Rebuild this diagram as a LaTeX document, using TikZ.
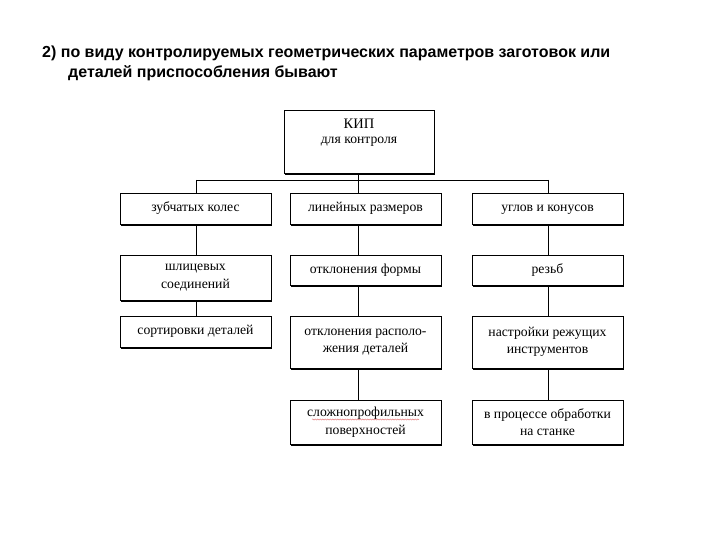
\documentclass[tikz,border=0pt]{standalone}
\usepackage{fontspec}
\setmainfont{Liberation Serif}
\newfontfamily\titlefont{Liberation Sans}
\usetikzlibrary{shadows,decorations.pathmorphing}
\begin{document}
\begin{tikzpicture}[x=1pt,y=-1pt,
  box/.style={draw=black, line width=0.8pt, fill=white, inner sep=0pt,
    minimum width=151pt, align=center,
    font=\fontsize{13.7}{17.5}\selectfont,
    drop shadow={shadow xshift=1.3pt, shadow yshift=-1.6pt, fill=black, opacity=1}},
  oneline/.style={text height=9.5pt, text depth=3pt},
  link/.style={draw=black, line width=0.8pt},
  ttl/.style={font=\titlefont\bfseries\fontsize{16}{18}\selectfont, inner sep=0pt, anchor=base west}]
\useasboundingbox (0,0) rectangle (720,540);
\fill[white] (0,0) rectangle (720,540);
% title
\node[ttl] (t1) at (42,58) {2) по виду контролируемых геометрических параметров заготовок или};
\node[ttl] (t2) at (68,78) {деталей приспособления бывают};
% top box
\node[box, minimum width=150pt, minimum height=63pt] (top) at (359,141.5) {};
\node[font=\fontsize{14.5}{16}\selectfont, inner sep=0pt] (topa) at (359,124) {КИП};
\node[font=\fontsize{13.7}{16}\selectfont, inner sep=0pt] (topb) at (359,142) {для контроля};
% columns
\coordinate (col1) at (196,0);
\coordinate (col2) at (358,0);
\coordinate (col3) at (548,0);
\coordinate (bus) at (0,180);
% row 1
\node[box, oneline, minimum height=31pt] (a1) at (195.5,208.5) {зубчатых колес};
\node[box, oneline, minimum height=31pt] (b1) at (365.5,208.5) {линейных размеров};
\node[box, oneline, minimum height=31pt] (c1) at (547.5,208.5) {углов и конусов};
% row 2
\node[box, minimum height=45pt] (a2) at (195.5,277.5) {шлицевых\\соединений};
\node[box, oneline, minimum height=30pt] (b2) at (365.5,270) {отклонения формы};
\node[box, oneline, minimum height=30pt] (c2) at (547.5,270) {резьб};
% row 3
\node[box, oneline, minimum height=31pt] (a3) at (195.5,331.5) {сортировки деталей};
\node[box, minimum height=52pt] (b3) at (365.5,342) {отклонения располо-\\жения деталей};
\node[box, minimum height=52pt] (c3) at (547.5,342) {настройки режущих\\инструментов};
% row 4
\node[box, minimum height=44pt] (b4) at (365.5,422) {сложнопрофильных\\поверхностей};
\node[box, minimum height=44pt] (c4) at (547.5,422) {в процессе обработки\\на станке};
% spell-check underline
\coordinate (wl) at (312,419.5);
\coordinate (wr) at (419,419.5);
\draw[red!80!black, opacity=0.5, line width=0.5pt,
  decorate, decoration={snake, amplitude=0.6pt, segment length=2.5pt}] (wl) -- (wr);
% connectors
\draw[link] (top.south -| col2) -- (b1.north -| col2);
\draw[link] (bus -| col1) -- (bus -| col3);
\draw[link] (bus -| col1) -- (a1.north -| col1);
\draw[link] (bus -| col3) -- (c1.north -| col3);
\draw[link] (a1.south -| col1) -- (a2.north -| col1);
\draw[link] (a2.south -| col1) -- (a3.north -| col1);
\draw[link] (b1.south -| col2) -- (b2.north -| col2);
\draw[link] (b2.south -| col2) -- (b3.north -| col2);
\draw[link] (b3.south -| col2) -- (b4.north -| col2);
\draw[link] (c1.south -| col3) -- (c2.north -| col3);
\draw[link] (c2.south -| col3) -- (c3.north -| col3);
\draw[link] (c3.south -| col3) -- (c4.north -| col3);
\end{tikzpicture}
\end{document}
